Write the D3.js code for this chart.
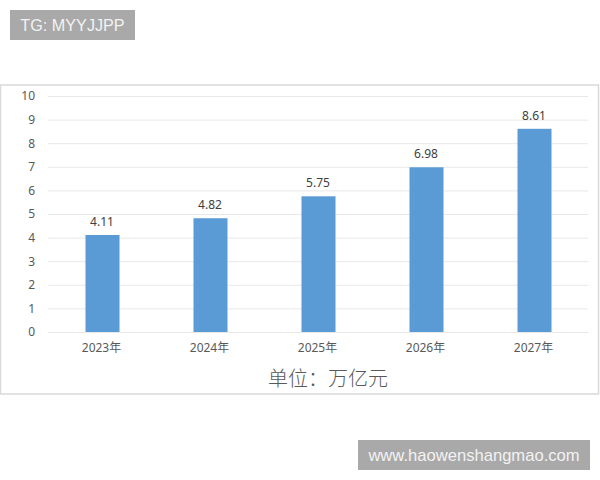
<!DOCTYPE html>
<html>
<head>
<meta charset="utf-8">
<script src="https://cdn.jsdelivr.net/npm/d3@7"></script>
<style>
    html, body { margin: 0; padding: 0; background: #fff; }
    svg { display: block; }
    text { font-family: "Noto Sans", "Noto Sans CJK SC", sans-serif; }
    text.badge { font-family: "Liberation Sans", sans-serif; }
</style>
</head>
<body>
<svg id="chart" width="600" height="480"></svg>
<script>
const categories = ['2023年', '2024年', '2025年', '2026年', '2027年'];
const values = [4.11, 4.82, 5.75, 6.98, 8.61];
const yTicks = [0, 1, 2, 3, 4, 5, 6, 7, 8, 9, 10];
const unitLabel = '单位：万亿元';
const badgeTop = 'TG: MYYJJPP';
const badgeBottom = 'www.haowenshangmao.com';

const svg = d3.select('#chart');

// chart frame
svg.append('rect')
    .attr('x', 0.5)
    .attr('y', 85)
    .attr('width', 598)
    .attr('height', 309)
    .attr('fill', '#fff')
    .attr('stroke', '#d9d9d9')
    .attr('stroke-width', 1.5);

const x = d3.scaleBand()
    .domain(categories)
    .range([48.5, 588.5])
    .paddingInner(0.685)
    .paddingOuter(0.3425);

const y = d3.scaleLinear()
    .domain([0, 10])
    .range([332, 96]);

// gridlines and y labels
const yAxis = svg.append('g')
    .attr('transform', 'translate(48,0)')
    .call(d3.axisLeft(y).tickValues(yTicks).tickSize(-540).tickPadding(13));
yAxis.select('.domain').remove();
yAxis.selectAll('line').attr('stroke', '#e8e8e8');
yAxis.selectAll('text')
    .attr('fill', '#595959')
    .style('font-size', '12px');

// category labels, nudged left of the bar centre like the original
const xAxis = svg.append('g')
    .attr('transform', 'translate(-1,332)')
    .call(d3.axisBottom(x).tickSize(0).tickPadding(11));
xAxis.select('.domain').remove();
xAxis.selectAll('text')
    .attr('fill', '#595959')
    .style('font-size', '12px');

svg.append('g').selectAll('rect')
    .data(values)
    .join('rect')
    .attr('x', (d, i) => x(categories[i]))
    .attr('y', d => y(d))
    .attr('width', x.bandwidth())
    .attr('height', d => y(0) - y(d))
    .attr('fill', '#5b9bd5');

svg.append('g').selectAll('text')
    .data(values)
    .join('text')
    .attr('x', (d, i) => x(categories[i]) + x.bandwidth() / 2 - 0.5)
    .attr('y', d => y(d) - 9)
    .attr('text-anchor', 'middle')
    .attr('fill', '#404040')
    .style('font-size', '12px')
    .text(d => d.toFixed(2));

svg.append('text')
    .attr('x', 328)
    .attr('y', 386)
    .attr('text-anchor', 'middle')
    .attr('fill', '#595959')
    .style('font-size', '20px')
    .style('font-weight', 300)
    .text(unitLabel);

// watermark badges
function badge(rx, ry, w, h, label, size) {
    svg.append('rect')
        .attr('x', rx)
        .attr('y', ry)
        .attr('width', w)
        .attr('height', h)
        .attr('fill', '#a9a9a9');
    svg.append('text')
        .attr('class', 'badge')
        .attr('x', rx + w / 2)
        .attr('y', ry + h / 2 + size * 0.36)
        .attr('text-anchor', 'middle')
        .attr('fill', '#f2f2f2')
        .style('font-size', size + 'px')
        .text(label);
}

badge(10, 10, 125, 30, badgeTop, 16.2);
badge(358, 440, 232, 30, badgeBottom, 16.6);
</script>
</body>
</html>
